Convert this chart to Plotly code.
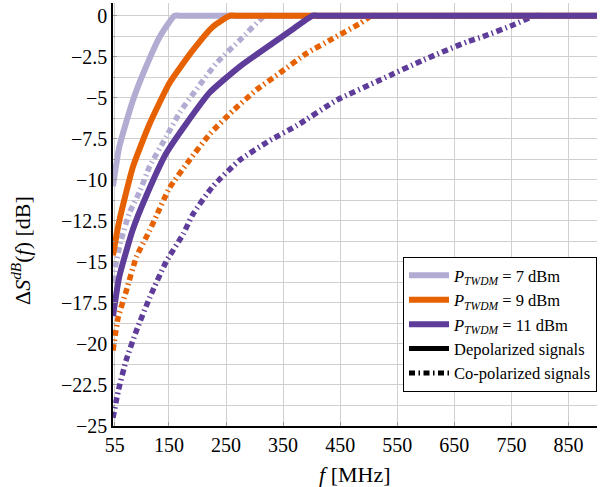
import plotly.graph_objects as go

# ---- data ----
f_7_dep = [52, 63, 87, 110, 134, 160, 168, 900]
s_7_dep = [-10.4, -8.0, -5.15, -3.1, -1.28, 0.0, 0.0, 0.0]

f_9_dep = [52, 58, 63, 87, 116, 151, 192, 227, 257, 265, 900]
s_9_dep = [-14.6, -13.4, -12.5, -9.2, -6.6, -4.1, -2.1, -0.67, 0.0, 0.0, 0.0]

f_11_dep = [52, 63, 87, 110, 145, 180, 221, 274, 333, 370, 402, 410, 900]
s_11_dep = [-18.3, -15.9, -13.0, -11.0, -8.4, -6.6, -4.7, -3.1, -1.65, -0.75, 0.0, 0.0, 0.0]

f_7_co = [52, 55, 66, 81, 99, 116, 145, 169, 198, 233, 274, 318, 326, 900]
s_7_co = [-16.2, -15.5, -13.7, -12.0, -10.7, -9.2, -7.4, -5.9, -4.5, -2.9, -1.5, 0.0, 0.0, 0.0]

f_9_co = [52, 61, 75, 93, 116, 128, 151, 186, 222, 262, 304, 344, 391, 438, 485, 505, 513, 900]
s_9_co = [-20.4, -18.4, -16.8, -14.7, -13.1, -12.2, -10.5, -8.8, -7.2, -5.8, -4.5, -3.5, -2.3, -1.38, -0.47, 0.0, 0.0, 0.0]

f_11_co = [52, 61, 75, 93, 116, 145, 175, 192, 227, 274, 327, 374, 444, 521, 596, 672, 700, 753, 792, 800, 900]
s_11_co = [-24.5, -22.9, -21.0, -19.2, -17.2, -15.0, -13.3, -12.1, -10.4, -8.8, -7.6, -6.7, -5.15, -3.9, -2.7, -1.6, -1.28, -0.57, 0.0, 0.0, 0.0]

x_ticks = [55, 150, 250, 350, 450, 550, 650, 750, 850]
y_ticks = [0, -2.5, -5, -7.5, -10, -12.5, -15, -17.5, -20, -22.5, -25]
y_ticktext = ["0", "\u22122.5", "\u22125", "\u22127.5", "\u221210", "\u221212.5",
              "\u221215", "\u221217.5", "\u221220", "\u221222.5", "\u221225"]

C7 = "#b2abd2"
C9 = "#e66101"
C11 = "#5e3c99"
DASHDOT = "6px,3.5px,1.5px,3.5px"
FONT = "Liberation Serif"

fig = go.Figure()

# co-polarized (dash-dot)
for fx, sy, c in [(f_11_co, s_11_co, C11), (f_9_co, s_9_co, C9), (f_7_co, s_7_co, C7)]:
    fig.add_trace(go.Scatter(x=fx, y=sy, mode="lines", showlegend=False,
                             line=dict(color=c, width=5.5, dash=DASHDOT,
                                       shape="spline", smoothing=0.5)))

# depolarized (solid)
for fx, sy, c, name in [(f_7_dep, s_7_dep, C7, "<i>P</i><sub><i>TWDM</i></sub> = 7 dBm"),
                        (f_9_dep, s_9_dep, C9, "<i>P</i><sub><i>TWDM</i></sub> = 9 dBm"),
                        (f_11_dep, s_11_dep, C11, "<i>P</i><sub><i>TWDM</i></sub> = 11 dBm")]:
    fig.add_trace(go.Scatter(x=fx, y=sy, mode="lines", name=name,
                             line=dict(color=c, width=6, shape="spline", smoothing=0.5)))

# legend-only entries
fig.add_trace(go.Scatter(x=[None], y=[None], mode="lines", name="Depolarized signals",
                         line=dict(color="black", width=5)))
fig.add_trace(go.Scatter(x=[None], y=[None], mode="lines", name="Co-polarized signals",
                         line=dict(color="black", width=5, dash=DASHDOT)))

L, R, T, B = 113, 12, 3, 61
PW = 609 - L - R
PH = 487 - T - B

fig.update_layout(
    width=609, height=487,
    margin=dict(l=L, r=R, t=T, b=B, autoexpand=False),
    plot_bgcolor="white", paper_bgcolor="white",
    font=dict(family=FONT, size=20, color="black"),
    legend=dict(x=1.0, y=(426 - 257) / PH, xanchor="right", yanchor="top",
                bgcolor="white", bordercolor="black", borderwidth=1,
                font=dict(family=FONT, size=16.5), tracegroupgap=0,
                itemwidth=40),
    annotations=[
        dict(text="<i>f</i> [MHz]", xref="paper", yref="paper",
             x=0.5, y=-(474 - 426) / PH, xanchor="center", yanchor="middle",
             showarrow=False, font=dict(size=22, family=FONT)),
        dict(text="\u0394<i>S</i><sup><i>dB</i></sup>(<i>f</i>) [dB]", xref="paper", yref="paper",
             x=-(L - 21) / PW, y=(426 - 251) / PH, xanchor="center", yanchor="middle",
             textangle=-90, showarrow=False, font=dict(size=22, family=FONT)),
    ],
)

fig.update_xaxes(
    range=[52, 900], tickvals=x_ticks, ticktext=[str(v) for v in x_ticks],
    showgrid=True, gridcolor="#d0d0d0", gridwidth=1,
    showline=True, linecolor="black", linewidth=1.5, mirror=False,
    ticks="inside", ticklen=4, tickcolor="#999", zeroline=False,
    automargin=False, tickfont=dict(size=20, family=FONT),
)

fig.update_yaxes(
    range=[-25, 0.77], tickvals=y_ticks, ticktext=y_ticktext,
    showgrid=True, gridcolor="#d0d0d0", gridwidth=1,
    minor=dict(dtick=1.25, tick0=0, showgrid=True, gridcolor="#d0d0d0", gridwidth=1,
               ticks="inside", ticklen=2, tickcolor="#999"),
    showline=True, linecolor="black", linewidth=1.5, mirror=False,
    ticks="inside", ticklen=4, tickcolor="#999", zeroline=False,
    automargin=False, tickfont=dict(size=20, family=FONT),
)

fig.write_html("out.html", config={"displayModeBar": False},
               post_script="document.body.style.margin='0';")
